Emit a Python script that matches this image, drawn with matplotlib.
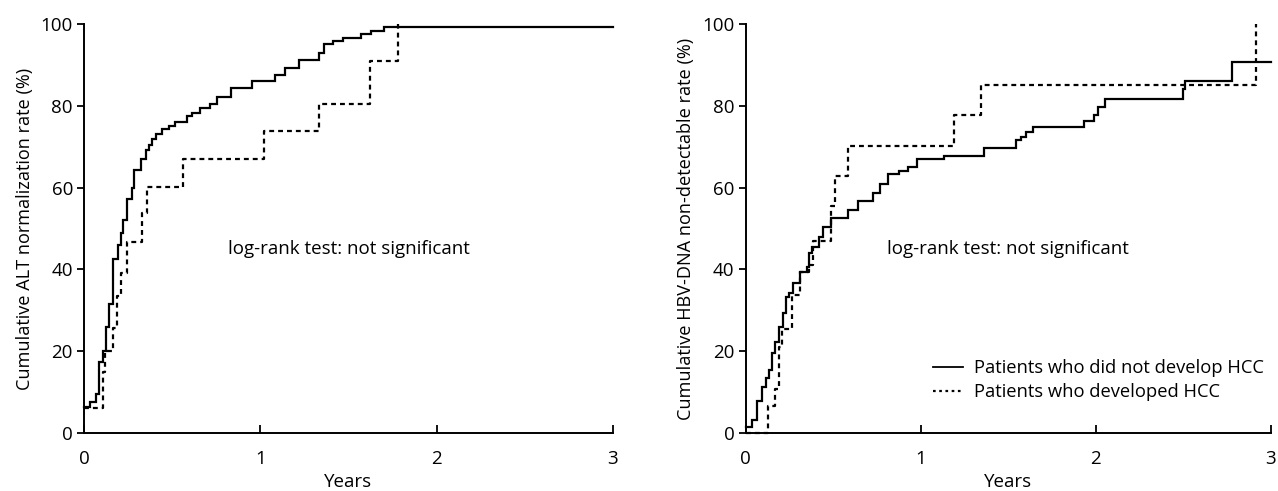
import matplotlib
matplotlib.use("Agg")
import matplotlib.pyplot as plt
from matplotlib.lines import Line2D

plt.rcParams['font.family'] = ['Open Sans', 'DejaVu Sans']

# ---- data ----
alt_nohcc_t = [0, 0.035, 0.066, 0.087, 0.11, 0.125, 0.144, 0.167, 0.19, 0.208, 0.223,
               0.246, 0.27, 0.284, 0.324, 0.35, 0.37, 0.385, 0.41, 0.44, 0.48, 0.517,
               0.583, 0.615, 0.66, 0.716, 0.754, 0.833, 0.953, 1.085, 1.142, 1.218,
               1.33, 1.36, 1.41, 1.47, 1.57, 1.625, 1.70, 3.0]
alt_nohcc_v = [6.4, 7.6, 9.5, 17.3, 20, 26, 31.6, 42.5, 46, 48.9, 52.2,
               57.3, 59.9, 64.2, 67, 69.3, 70.5, 72, 73, 74.3, 75, 76,
               77.4, 78.2, 79.5, 80.5, 82.1, 84.4, 86, 87.5, 89.3, 91.3,
               93, 95, 95.8, 96.6, 97.5, 98.4, 99.3, 99.3]

alt_hcc_t = [0, 0.106, 0.12, 0.163, 0.185, 0.21, 0.242, 0.328, 0.36, 0.559,
             1.023, 1.33, 1.62, 1.78]
alt_hcc_v = [6, 15, 20, 25.7, 33.4, 39, 46.6, 53.8, 60.1, 67,
             73.8, 80.5, 90.9, 100]

dna_nohcc_t = [0, 0.037, 0.067, 0.094, 0.115, 0.136, 0.149, 0.17, 0.192, 0.215,
               0.229, 0.25, 0.268, 0.31, 0.35, 0.36, 0.38, 0.42, 0.44, 0.49,
               0.587, 0.64, 0.73, 0.77, 0.815, 0.876, 0.93, 0.976, 1.13, 1.36,
               1.545, 1.57, 1.6, 1.64, 1.93, 1.99, 2.01, 2.05, 2.495, 2.51, 2.78, 3.0]
dna_nohcc_v = [1.5, 3.2, 7.9, 11.2, 13.5, 15.4, 19.5, 22.2, 25.9, 29.3,
               33.3, 34.2, 36.7, 39.4, 40.5, 44.0, 45.5, 47.8, 50.4, 52.6,
               54.5, 56.7, 58.6, 60.8, 63.3, 64.1, 65.1, 67, 67.7, 69.6,
               71.6, 72.4, 73.7, 74.7, 76.3, 77.7, 79.8, 81.6, 84, 86.1, 90.7, 90.7]

dna_hcc_t = [0, 0.13, 0.167, 0.19, 0.21, 0.265, 0.31, 0.36, 0.385, 0.488,
             0.508, 0.585, 1.189, 1.343, 2.916]
dna_hcc_v = [0, 6.7, 10.8, 21, 25.5, 33.7, 39.4, 41, 47, 55.5,
             62.8, 70.2, 77.7, 85.1, 100]

x_ticks = [0, 1, 2, 3]
y_ticks = [0, 20, 40, 60, 80, 100]
ylabels = ["Cumulative ALT normalization rate (%)",
           "Cumulative HBV-DNA non-detectable rate (%)"]
xlabel = "Years"
annot = "log-rank test: not significant"
legend_labels = ["Patients who did not develop HCC", "Patients who developed HCC"]

W, H = 1278, 491
fig = plt.figure(figsize=(W / 100, H / 100), dpi=100)
ax1 = fig.add_axes([84 / W, (H - 433) / H, (613 - 84) / W, (433 - 24) / H])
ax2 = fig.add_axes([745.6 / W, (H - 433) / H, (1271 - 745.6) / W, (433 - 24) / H])

dash = (0, (2.2, 1.8))
panels = [(ax1, alt_nohcc_t, alt_nohcc_v, alt_hcc_t, alt_hcc_v, ylabels[0]),
          (ax2, dna_nohcc_t, dna_nohcc_v, dna_hcc_t, dna_hcc_v, ylabels[1])]

for ax, t1, v1, t2, v2, yl in panels:
    ax.plot(t1, v1, drawstyle='steps-post', color='black', lw=1.6,
            clip_on=False, solid_joinstyle='miter')
    ax.plot(t2, v2, drawstyle='steps-post', color='black', lw=1.6,
            linestyle=dash, clip_on=False)
    ax.set_xlim(0, 3)
    ax.set_ylim(0, 100)
    ax.set_xticks(x_ticks)
    ax.set_yticks(y_ticks)
    for s in ['top', 'right']:
        ax.spines[s].set_visible(False)
    for s in ['left', 'bottom']:
        ax.spines[s].set_linewidth(1.4)
    ax.tick_params(axis='x', direction='in', length=6, width=1.3, labelsize=13.5, pad=12)
    ax.tick_params(axis='y', direction='out', length=5, width=1.3, labelsize=13.5, pad=3)
    ax.set_xlabel(xlabel, fontsize=13.5, labelpad=4)
    ax.set_ylabel(yl, fontsize=13.1, labelpad=5)
    ax.text(1.5, 45, annot, ha='center', va='center', fontsize=13.5)

h1 = Line2D([], [], color='black', lw=1.3)
h2 = Line2D([], [], color='black', lw=1.6, linestyle=(0, (1.2, 1.6)))
ax2.legend([h1, h2], legend_labels, loc='lower right', bbox_to_anchor=(1.0, 0.06),
           frameon=False, fontsize=13.2, handlelength=1.6, handletextpad=0.6,
           borderaxespad=0, labelspacing=0.33)

fig.savefig("out.png", dpi=100)
